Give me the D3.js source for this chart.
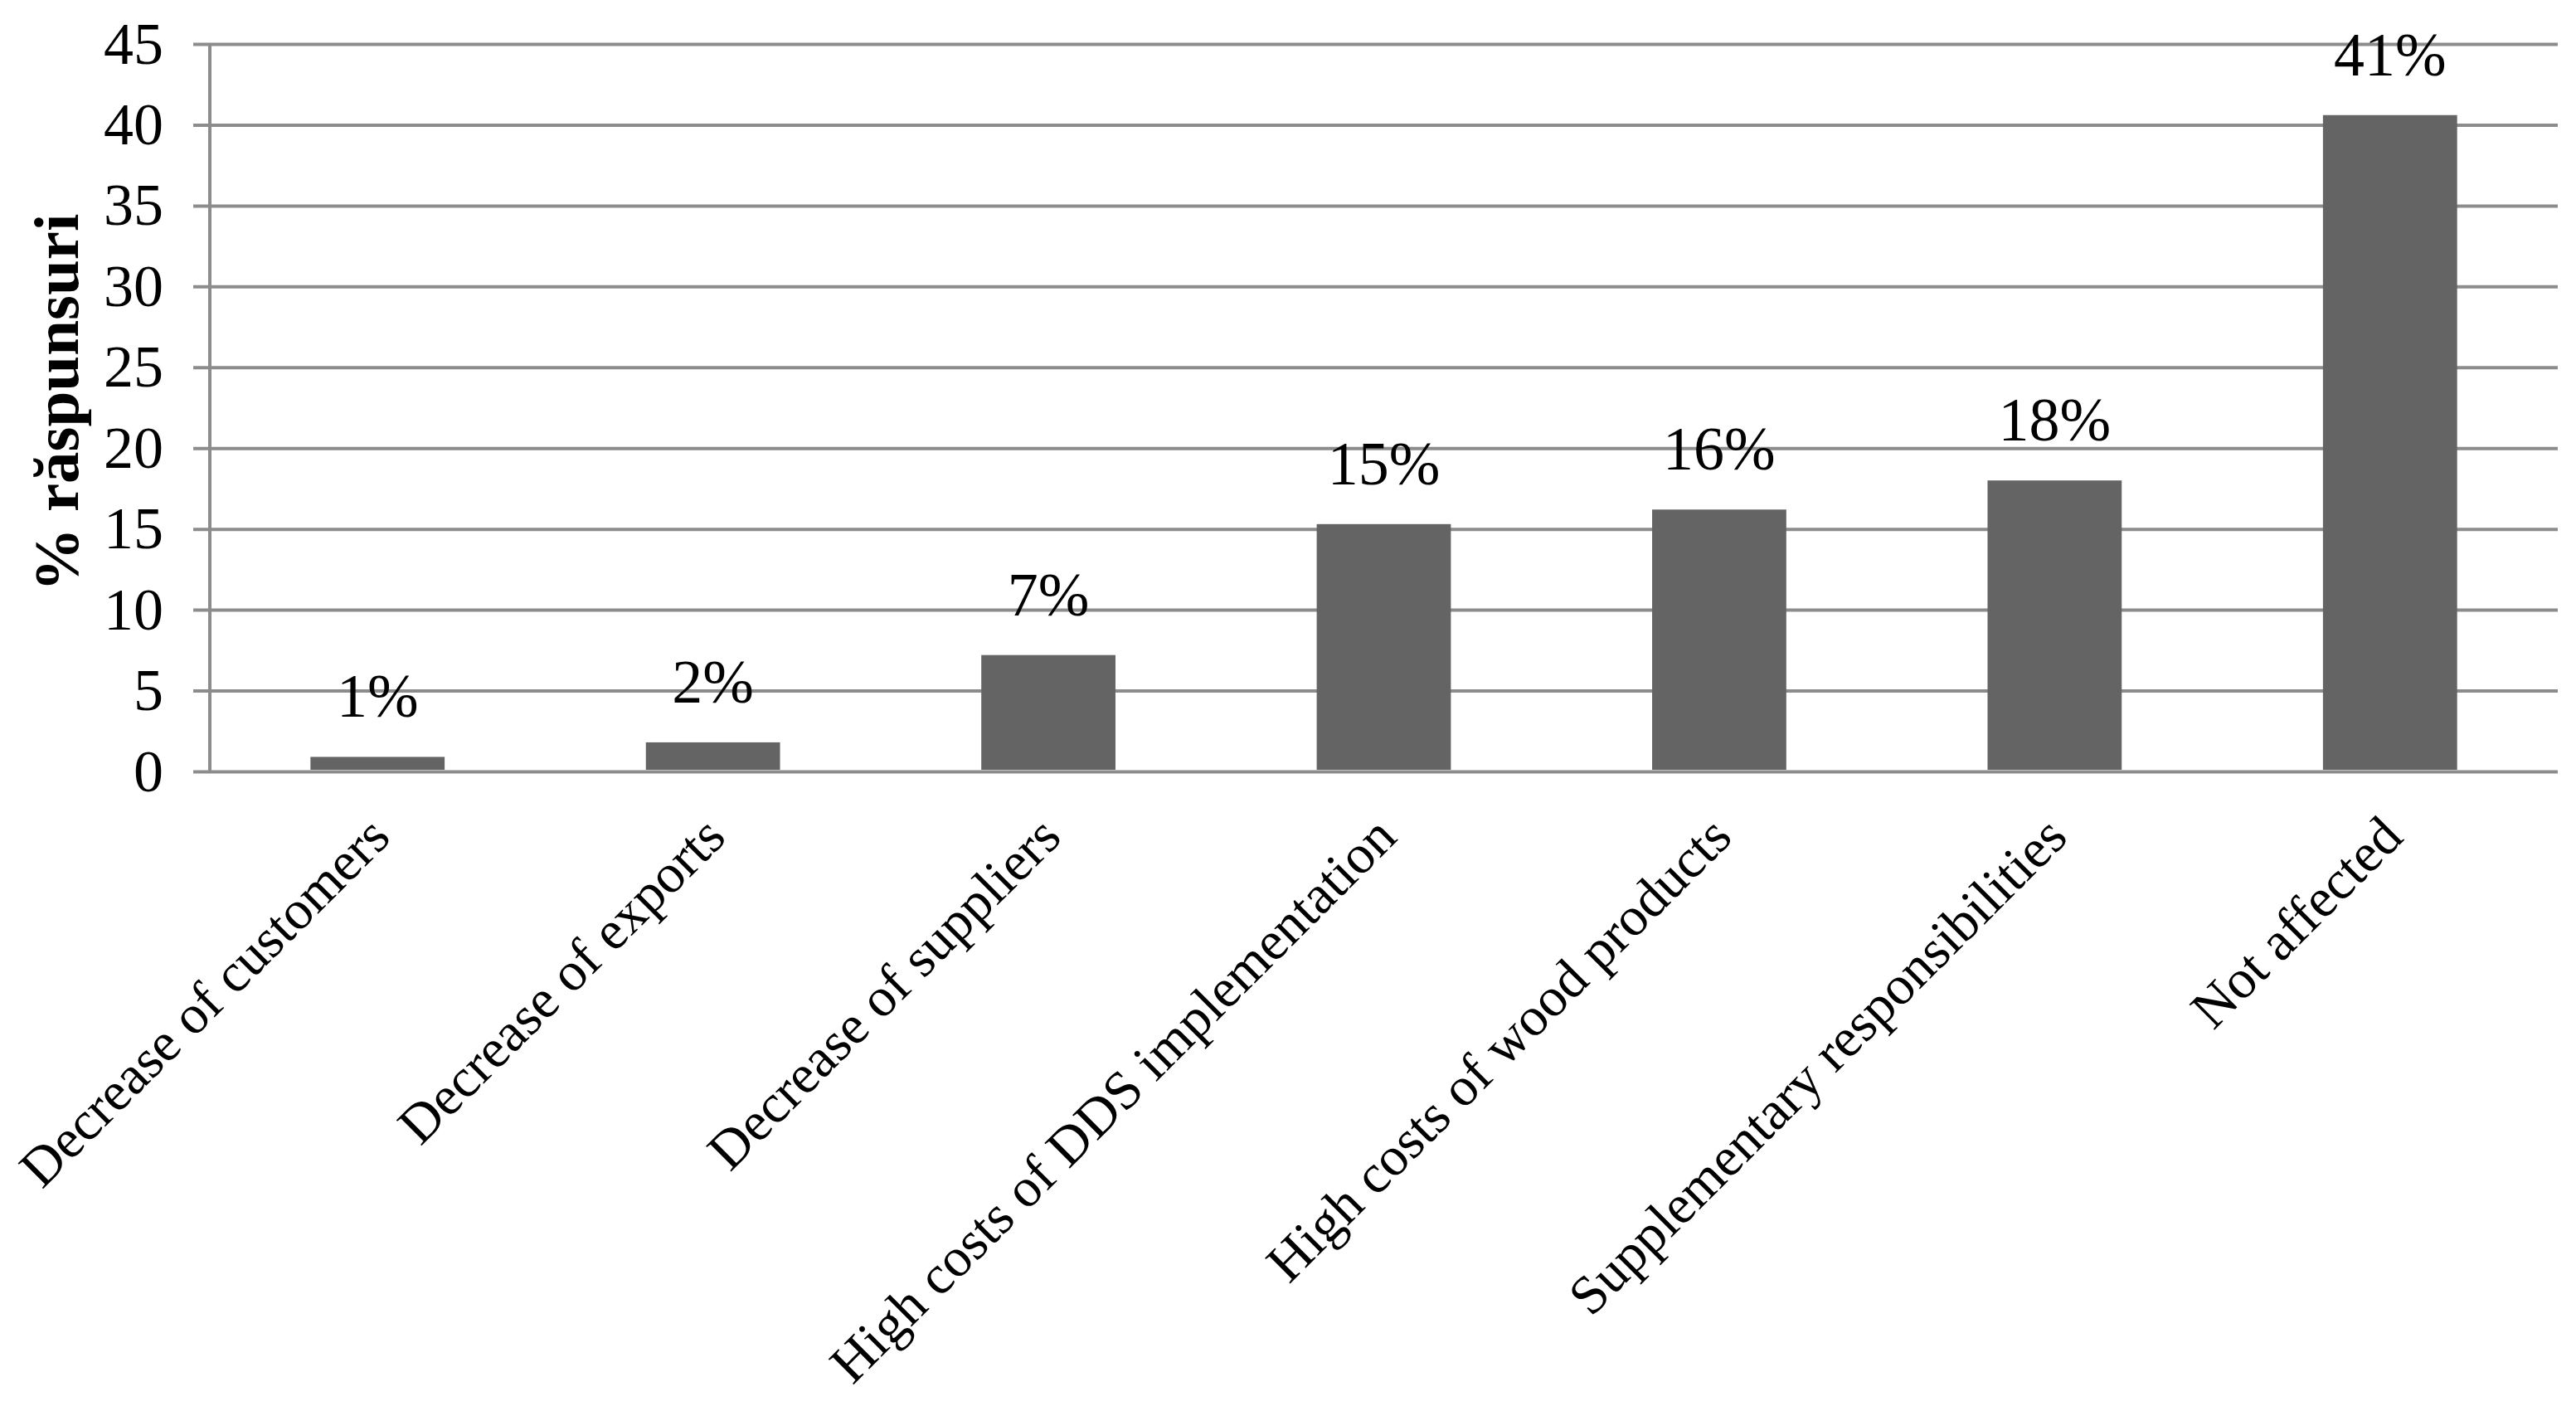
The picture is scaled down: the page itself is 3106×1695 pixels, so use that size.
<!DOCTYPE html>
<html>
<head>
<meta charset="utf-8">
<script src="https://cdn.jsdelivr.net/npm/d3@7"></script>
<style>
  html, body { margin: 0; padding: 0; background: #ffffff; }
  svg { display: block; }
  text { font-family: "Liberation Serif", "Times New Roman", Times, serif; fill: #000; }
</style>
</head>
<body>
<svg id="chart" width="3106" height="1695"></svg>
<script>
const categories = [
  "Decrease of customers",
  "Decrease of exports",
  "Decrease of suppliers",
  "High costs of DDS implementation",
  "High costs of wood products",
  "Supplementary responsibilities",
  "Not affected"
];
const values = [0.9, 1.8, 7.2, 15.3, 16.2, 18.0, 40.6];
const valueLabels = ["1%", "2%", "7%", "15%", "16%", "18%", "41%"];
const yTicks = [0, 5, 10, 15, 20, 25, 30, 35, 40, 45];
const yTitle = "% răspunsuri";

(function () {
const svg = d3.select("#chart");
const mLeft = 253, mRight = 3084, mTop = 53, mBottom = 930;

const x = d3.scaleBand().domain(categories).range([mLeft, mRight]).padding(0);
const y = d3.scaleLinear().domain([0, 45]).range([mBottom, mTop]);
const barW = x.bandwidth() * 0.4;

const gridColor = "#8c8c8c";

// gridlines + tick labels
const yAxis = d3.axisLeft(y).tickValues(yTicks).tickSize(-(mRight - mLeft)).tickSizeOuter(0);
const gAxis = svg.append("g").attr("transform", `translate(${mLeft},0)`).call(yAxis);
gAxis.select(".domain").remove();
gAxis.selectAll(".tick line").attr("stroke", gridColor).attr("stroke-width", 4).attr("x1", -20);
gAxis.selectAll(".tick text")
  .attr("font-size", 72)
  .attr("font-family", "'Liberation Serif', 'Times New Roman', serif")
  .attr("fill", "#000")
  .attr("x", -56);

// vertical axis line
svg.append("line")
  .attr("x1", mLeft).attr("x2", mLeft)
  .attr("y1", y(45)).attr("y2", y(0))
  .attr("stroke", gridColor).attr("stroke-width", 4);

// bars
svg.append("g").selectAll("rect").data(values).join("rect")
  .attr("x", (d, i) => x(categories[i]) + x.bandwidth() / 2 - barW / 2)
  .attr("width", barW)
  .attr("y", d => y(d))
  .attr("height", d => y(0) - y(d) - 2)
  .attr("fill", "#646464");

// value labels
svg.append("g").selectAll("text").data(values).join("text")
  .attr("x", (d, i) => x(categories[i]) + x.bandwidth() / 2)
  .attr("y", d => y(d) - 48)
  .attr("text-anchor", "middle")
  .attr("font-size", 74)
  .text((d, i) => valueLabels[i]);

// category labels
svg.append("g").selectAll("text").data(categories).join("text")
  .attr("transform", d => `translate(${x(d) + x.bandwidth() / 2 + 18},1012) rotate(-45)`)
  .attr("text-anchor", "end")
  .attr("font-size", 66)
  .text(d => d);

// y title
svg.append("text")
  .attr("transform", `translate(94,${(mTop + mBottom) / 2 - 6}) rotate(-90)`)
  .attr("text-anchor", "middle")
  .attr("font-size", 77)
  .attr("font-weight", "bold")
  .text(yTitle);
})();
</script>
</body>
</html>
